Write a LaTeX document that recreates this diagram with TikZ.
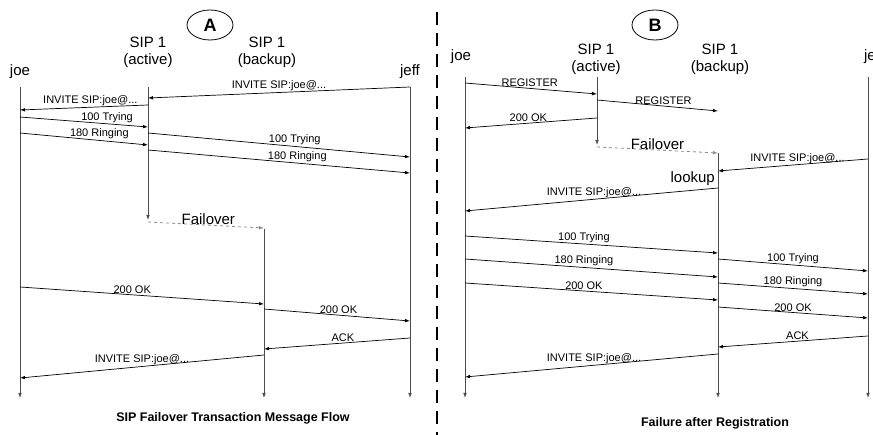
\documentclass[tikz,border=0pt]{standalone}
\usepackage{fontspec}
\setmainfont{Liberation Sans}
\usetikzlibrary{positioning, arrows.meta, shapes.geometric}

\begin{document}
\begin{tikzpicture}[x=1pt, y=-1pt,
      head/.style = {font=\fontsize{15}{17}\selectfont, align=center, inner sep=1pt},
       lbl/.style = {font=\fontsize{11}{12}\selectfont, inner sep=1pt, above},
       msg/.style = {-{Latex[length=5pt,width=3.6pt]}, line width=0.7pt},
      life/.style = {draw=black!70, line width=0.8pt, -{Latex[length=5pt,width=3.6pt]}},
      fail/.style = {dashed, draw=black!45, line width=0.8pt, -{Latex[length=5pt,width=3.6pt]}},
       tag/.style = {ellipse, draw, line width=0.8pt, minimum width=46pt, minimum height=30pt,
                     inner sep=0pt, font=\bfseries\fontsize{18}{18}\selectfont},
     title/.style = {font=\bfseries\fontsize{12.5}{14}\selectfont}
                        ]
\useasboundingbox (0,0) rectangle (873,435);
% panel A
\node (tagA) [tag] at (210,25) {A};
\node (joeA)  [head] at (20,72)  {joe};
\node (actA)  [head] at (148,52) {SIP 1\\(active)};
\node (bakA)  [head] at (267,52) {SIP 1\\(backup)};
\node (jeffA) [head] at (410,72) {jeff};
\coordinate (joeAtop)  at (20,87);   \coordinate (joeAend)  at (20,398);
\coordinate (actAtop)  at (148,87);  \coordinate (actAend)  at (148,220);
\coordinate (bakAtop)  at (264,229); \coordinate (bakAend)  at (264,398);
\coordinate (jeffAtop) at (410,87);  \coordinate (jeffAend) at (410,398);
\draw[life] (joeAtop) to (joeAend);
\draw[life] (actAtop) to (actAend);
\draw[life] (bakAtop) to (bakAend);
\draw[life] (jeffAtop) to (jeffAend);
\draw[fail] (actAtop |- 0,222) to node[pos=0.52, above=-1pt, head] {Failover} (bakAtop |- 0,228);
\draw[msg] (jeffAtop |- 0,87)  to node[lbl, pos=0.5]  {INVITE SIP:joe@...} (actAtop |- 0,98);
\draw[msg] (actAtop |- 0,105)  to node[lbl, pos=0.45] {INVITE SIP:joe@...} (joeAtop |- 0,110);
\draw[msg] (joeAtop |- 0,117)  to node[lbl, pos=0.68] {100 Trying} (actAtop |- 0,127);
\draw[msg] (joeAtop |- 0,133)  to node[lbl, pos=0.62] {180 Ringing} (actAtop |- 0,145);
\draw[msg] (actAtop |- 0,133)  to node[lbl, pos=0.56] {100 Trying} (jeffAtop |- 0,157);
\draw[msg] (actAtop |- 0,150)  to node[lbl, pos=0.57] {180 Ringing} (jeffAtop |- 0,173);
\draw[msg] (joeAtop |- 0,287)  to node[lbl, pos=0.46] {200 OK} (bakAtop |- 0,304);
\draw[msg] (bakAtop |- 0,309)  to node[lbl, pos=0.51] {200 OK} (jeffAtop |- 0,321);
\draw[msg] (jeffAtop |- 0,338) to node[lbl, pos=0.46] {ACK} (bakAtop |- 0,349);
\draw[msg] (bakAtop |- 0,355)  to node[lbl, pos=0.5]  {INVITE SIP:joe@...} (joeAtop |- 0,378);
\node (titleA) [title] at (233,418) {SIP Failover Transaction Message Flow};
% divider
\coordinate (divtop) at (437,12);
\coordinate (divend) at (437,435);
\draw[line width=2pt, dash pattern=on 13pt off 8pt] (divtop) -- (divend);
% panel B
\node (tagB) [tag] at (655,25) {B};
\node (joeB)  [head] at (461,57) {joe};
\node (actB)  [head] at (596,59) {SIP 1\\(active)};
\node (bakB)  [head] at (720,59) {SIP 1\\(backup)};
\node (jeffB) [head] at (874,57) {jeff};
\coordinate (joeBtop)  at (465,77);  \coordinate (joeBend)  at (465,398);
\coordinate (actBtop)  at (597,77);  \coordinate (actBend)  at (597,145);
\coordinate (bakBtop)  at (718,153); \coordinate (bakBend)  at (718,398);
\coordinate (jeffBtop) at (868,77);  \coordinate (jeffBend) at (868,398);
\coordinate (lookupat) at (718,179);
\draw[life] (joeBtop) to (joeBend);
\draw[life] (actBtop) to (actBend);
\draw[life] (bakBtop) to (bakBend);
\draw[life] (jeffBtop) to (jeffBend);
\draw[msg] (joeBtop |- 0,83)   to node[lbl, pos=0.49] {REGISTER} (actBtop |- 0,94);
\draw[msg] (actBtop |- 0,100)  to node[lbl, pos=0.55] {REGISTER} (bakBtop |- 0,111);
\draw[msg] (actBtop |- 0,118)  to node[lbl, pos=0.52] {200 OK} (joeBtop |- 0,128);
\draw[fail] (actBtop |- 0,147) to node[pos=0.5, above=-1pt, head] {Failover} (bakBtop);
\draw[msg] (jeffBtop |- 0,159) to node[lbl, pos=0.47] {INVITE SIP:joe@...} (bakBtop |- 0,171);
\node (lookup) [head, left=2pt of lookupat] {lookup};
\draw[msg] (bakBtop |- 0,188)  to node[lbl, pos=0.49] {INVITE SIP:joe@...} (joeBtop |- 0,211);
\draw[msg] (joeBtop |- 0,236)  to node[lbl, pos=0.47] {100 Trying} (bakBtop |- 0,253);
\draw[msg] (bakBtop |- 0,259)  to node[lbl, pos=0.5]  {100 Trying} (jeffBtop |- 0,271);
\draw[msg] (joeBtop |- 0,259)  to node[lbl, pos=0.47] {180 Ringing} (bakBtop |- 0,277);
\draw[msg] (bakBtop |- 0,283)  to node[lbl, pos=0.5]  {180 Ringing} (jeffBtop |- 0,294);
\draw[msg] (joeBtop |- 0,283)  to node[lbl, pos=0.47] {200 OK} (bakBtop |- 0,300);
\draw[msg] (bakBtop |- 0,307)  to node[lbl, pos=0.5]  {200 OK} (jeffBtop |- 0,318);
\draw[msg] (jeffBtop |- 0,336) to node[lbl, pos=0.47] {ACK} (bakBtop |- 0,347);
\draw[msg] (bakBtop |- 0,354)  to node[lbl, pos=0.49] {INVITE SIP:joe@...} (joeBtop |- 0,377);
\node (titleB) [title] at (715,423) {Failure after Registration};
\end{tikzpicture}
\end{document}
